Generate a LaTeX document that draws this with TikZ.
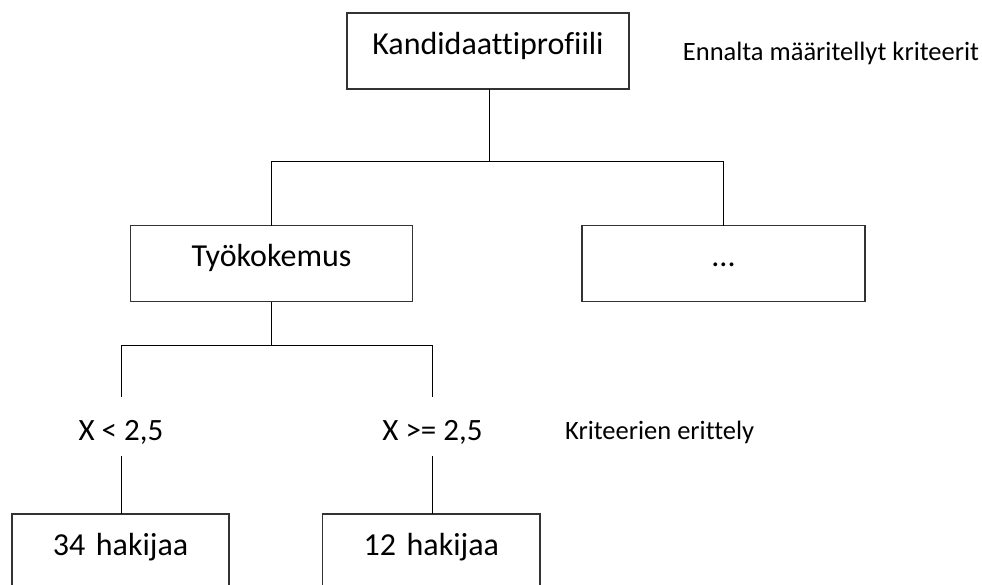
\documentclass[tikz,border=0pt]{standalone}
\usepackage{fontspec}
\setmainfont[Ligatures=NoCommon]{Carlito}
\tikzset{
  x=1pt, y=-1pt,
  boxnode/.style={draw=black!80, line width=1.2pt, inner sep=0pt, outer sep=0pt,
    text height=41pt, text depth=35pt, align=center, anchor=base,
    font=\fontsize{32}{38}\selectfont},
  condnode/.style={inner sep=0pt, outer sep=0pt, text height=43pt, text depth=16pt,
    anchor=base, font=\fontsize{31}{37}\selectfont},
  notenode/.style={inner sep=0pt, anchor=base west, font=\fontsize{26.5}{32}\selectfont},
  link/.style={draw=black, line width=1pt}
}
\begin{document}
\begin{tikzpicture}
\useasboundingbox (0,0) rectangle (982,584);
\clip (0,0) rectangle (982,584);

% boxes
\node[boxnode, text width=282pt] (profile) at (488,54) {Kandidaattiprofiili};
\node[boxnode, text width=282.7pt] (work) at (271.5,266.7) {Työkokemus};
\node[boxnode, text width=283pt] (other) at (723.5,266.7) {...};
\node[boxnode, text width=217pt] (low) at (120.5,555) {34 hakijaa};
\node[boxnode, text width=217.3pt] (high) at (431.3,555) {12 hakijaa};

% split conditions
\node[condnode] (condlow) at (121,440) {X < 2,5};
\node[condnode] (condhigh) at (432.5,440) {X >= 2,5};

% side notes
\node[notenode] (note1) at (682.7,60.5) {Ennalta määritellyt kriteerit};
\node[notenode] (note2) at (565,439.3) {Kriteerien erittely};

% connectors
\coordinate (j1) at (489,161);
\coordinate (j2) at (271.5,345);
\draw[link] (profile.south -| j1) -- (j1);
\draw[link] (work.north) -- (work.north |- j1) -- (other.north |- j1) -- (other.north);
\draw[link] (work.south) -- (j2);
\draw[link] (condlow.north) -- (condlow.north |- j2) -- (condhigh.north |- j2) -- (condhigh.north);
\draw[link] (condlow.south) -- (condlow.south |- low.north);
\draw[link] (condhigh.south) -- (condhigh.south |- high.north);
\end{tikzpicture}
\end{document}
